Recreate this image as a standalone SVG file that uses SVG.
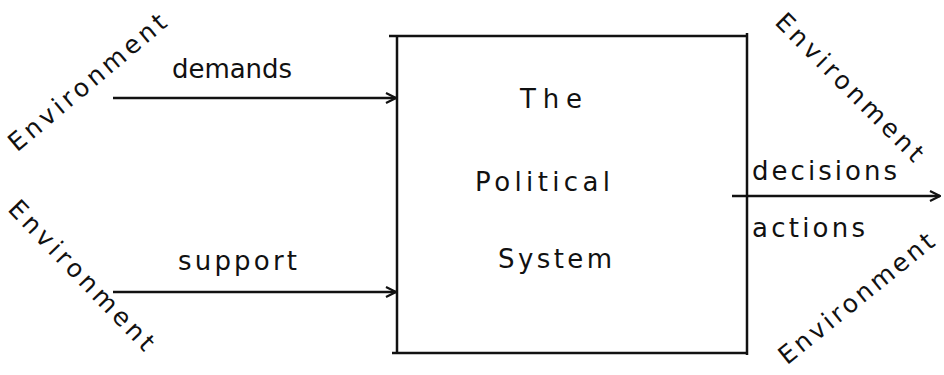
<svg xmlns="http://www.w3.org/2000/svg" width="944" height="375" viewBox="0 0 944 375">
<defs>
<style>
.t{font-family:"DejaVu Sans","Liberation Sans",sans-serif;font-size:26px;fill:#111}
.env{font-family:"DejaVu Sans","Liberation Sans",sans-serif;font-size:25px;fill:#111;text-anchor:middle}
.ln{stroke:#111;stroke-width:2.5;fill:none}
</style>
<marker id="ah" viewBox="0 0 12 12" refX="11" refY="6" markerWidth="12" markerHeight="12" markerUnits="userSpaceOnUse" orient="auto">
<path d="M1,1 L11,6 L1,11" fill="none" stroke="#111" stroke-width="2.2"/>
</marker>
</defs>
<g id="system">
<path class="ln" d="M389,36 H748 M392,353 H748 M397,36 V353 M747,33 V355"/>
<text class="t" x="520" y="108" textLength="62" lengthAdjust="spacing">The</text>
<text class="t" x="475" y="191" textLength="135" lengthAdjust="spacing">Political</text>
<text class="t" x="498" y="268" textLength="114" lengthAdjust="spacing">System</text>
</g>
<g id="env-tl"><text class="env" transform="translate(87,82) rotate(-40)" dy="9" textLength="198" lengthAdjust="spacing">Environment</text></g>
<g id="env-bl"><text class="env" transform="translate(82,275) rotate(46)" dy="9" textLength="198" lengthAdjust="spacing">Environment</text></g>
<g id="env-tr"><text class="env" transform="translate(850,87) rotate(45)" dy="9" textLength="198" lengthAdjust="spacing">Environment</text></g>
<g id="env-br"><text class="env" transform="translate(856,298) rotate(-39)" dy="9" textLength="192" lengthAdjust="spacing">Environment</text></g>
<g id="connectors">
<line class="ln" x1="113" y1="98" x2="396" y2="98" marker-end="url(#ah)"/>
<line class="ln" x1="113" y1="292" x2="396" y2="292" marker-end="url(#ah)"/>
<line class="ln" x1="732" y1="196" x2="940" y2="196" marker-end="url(#ah)"/>
<text class="t" x="172" y="78" textLength="120" lengthAdjust="spacing">demands</text>
<text class="t" x="178" y="270" textLength="119" lengthAdjust="spacing">support</text>
<text class="t" x="752" y="180" textLength="145" lengthAdjust="spacing">decisions</text>
<text class="t" x="752" y="237" textLength="113" lengthAdjust="spacing">actions</text>
</g>
</svg>
